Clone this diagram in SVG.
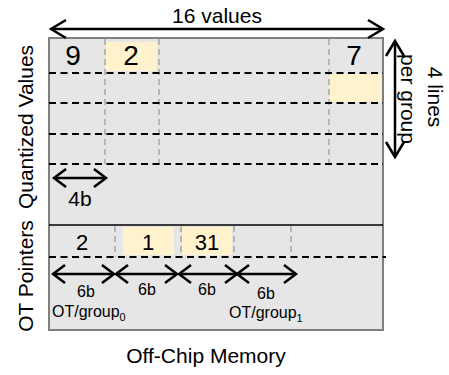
<svg xmlns="http://www.w3.org/2000/svg" width="449" height="375" viewBox="0 0 449 375">
<style>
text{font-family:"Liberation Sans",Arial,sans-serif;fill:#000}
.big{font-size:28px;text-anchor:middle}
.mid{font-size:22px;text-anchor:middle}
.lbl{font-size:21px;text-anchor:middle}
.sm{font-size:16px;text-anchor:middle}
.hl{fill:#FFF2CC}
.gd{stroke:#A6A6A6;stroke-width:1.5;stroke-dasharray:6 4;fill:none}
.bd{stroke:#000;stroke-width:1.8;stroke-dasharray:7 4.5;fill:none}
.arr{stroke:#000;stroke-width:2.5;fill:none}
</style>
<defs>
<marker id="ahB" markerUnits="userSpaceOnUse" viewBox="-17 -11 19 22" refX="0" refY="0" markerWidth="19" markerHeight="22" orient="auto-start-reverse" overflow="visible"><path d="M-15,-9 L0,0 L-15,9" fill="none" stroke="#000" stroke-width="2.5"/></marker>
<marker id="ahS" markerUnits="userSpaceOnUse" viewBox="-14 -11 16 22" refX="0" refY="0" markerWidth="16" markerHeight="22" orient="auto-start-reverse" overflow="visible"><path d="M-12,-9 L0,0 L-12,9" fill="none" stroke="#000" stroke-width="2.5"/></marker>
</defs>
<rect width="449" height="375" fill="#fff"/>
<g id="memory">
<rect x="49" y="38" width="334" height="292" fill="#E6E6E6" stroke="#808080" stroke-width="2"/>
</g>
<g id="quantized-values">
<rect class="hl" x="106" y="42" width="51" height="29"/>
<rect class="hl" x="329" y="74" width="52" height="28"/>
<path class="gd" d="M105,39V164M159,39V164M329,39V164"/>
<path class="bd" d="M49,73H383M49,103H383M49,134H383M49,164H383"/>
<text class="big" x="73" y="65">9</text>
<text class="big" x="131" y="65">2</text>
<text class="big" x="354" y="65">7</text>
<text class="lbl" x="80" y="206">4b</text>
</g>
<g id="ot-pointers">
<line x1="49" y1="225" x2="383" y2="225" stroke="#000" stroke-width="1.5"/>
<rect class="hl" x="123" y="227" width="51" height="28"/>
<rect class="hl" x="182" y="227" width="50" height="28"/>
<path class="gd" d="M115,226V257M181,226V257M234,226V257M291,226V258"/>
<path class="bd" d="M49,257H386"/>
<text class="mid" x="82" y="250">2</text>
<text class="mid" x="148" y="250">1</text>
<text class="mid" x="207" y="250">31</text>
<text class="sm" x="86" y="297">6b</text>
<text class="sm" x="147" y="295">6b</text>
<text class="sm" x="207" y="295">6b</text>
<text class="sm" x="266" y="299">6b</text>
<text x="52" y="317" font-size="16">OT/group<tspan font-size="11" dy="4">0</tspan></text>
<text x="229" y="318" font-size="16">OT/group<tspan font-size="11" dy="4">1</tspan></text>
</g>
<g id="labels">
<text class="lbl" x="217" y="23" font-size="22">16 values</text>
<text class="lbl" transform="translate(33,127) rotate(-90)">Quantized Values</text>
<text class="lbl" transform="translate(33,276) rotate(-90)" font-size="20">OT Pointers</text>
<text class="lbl" transform="translate(428,97) rotate(90)" font-size="20">4 lines</text>
<text class="lbl" transform="translate(401,99) rotate(90)" font-size="19">per group</text>
<text class="lbl" x="206" y="363" font-size="23">Off-Chip Memory</text>
</g>
<g id="connectors">
<line class="arr" x1="51" y1="29" x2="383" y2="29" marker-start="url(#ahB)" marker-end="url(#ahB)"/>
<line class="arr" x1="395" y1="41" x2="395" y2="157" marker-start="url(#ahB)" marker-end="url(#ahB)"/>
<line class="arr" x1="54" y1="178" x2="106" y2="178" marker-start="url(#ahS)" marker-end="url(#ahS)"/>
<line class="arr" x1="53" y1="274" x2="114" y2="274" marker-start="url(#ahS)" marker-end="url(#ahS)"/>
<line class="arr" x1="116" y1="274" x2="177" y2="274" marker-start="url(#ahS)" marker-end="url(#ahS)"/>
<line class="arr" x1="179" y1="274" x2="237" y2="274" marker-start="url(#ahS)" marker-end="url(#ahS)"/>
<line class="arr" x1="237" y1="274" x2="296" y2="274" marker-start="url(#ahS)" marker-end="url(#ahS)"/>
</g>
</svg>
